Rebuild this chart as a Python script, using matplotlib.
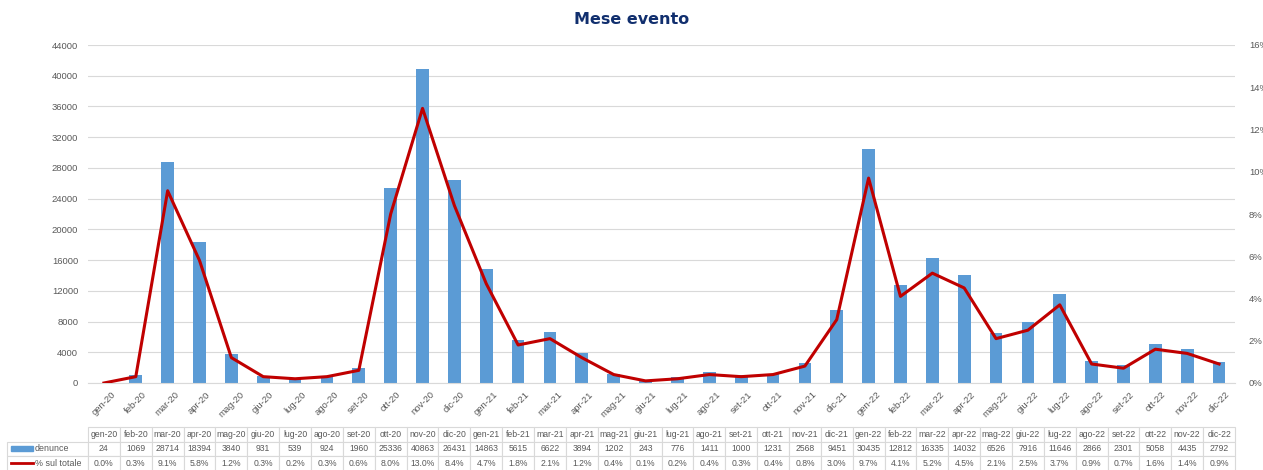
import numpy as np
import matplotlib.pyplot as plt
from matplotlib.ticker import MultipleLocator, FuncFormatter
from matplotlib.patches import Rectangle
from matplotlib.lines import Line2D

plt.rcParams['font.family'] = ['Liberation Sans', 'DejaVu Sans']

# dati
mesi = ['gen-20', 'feb-20', 'mar-20', 'apr-20', 'mag-20', 'giu-20', 'lug-20', 'ago-20', 'set-20', 'ott-20', 'nov-20', 'dic-20',
        'gen-21', 'feb-21', 'mar-21', 'apr-21', 'mag-21', 'giu-21', 'lug-21', 'ago-21', 'set-21', 'ott-21', 'nov-21', 'dic-21',
        'gen-22', 'feb-22', 'mar-22', 'apr-22', 'mag-22', 'giu-22', 'lug-22', 'ago-22', 'set-22', 'ott-22', 'nov-22', 'dic-22']
denunce = [24, 1069, 28714, 18394, 3840, 931, 539, 924, 1960, 25336, 40863, 26431,
           14863, 5615, 6622, 3894, 1202, 243, 776, 1411, 1000, 1231, 2568, 9451,
           30435, 12812, 16335, 14032, 6526, 7916, 11646, 2866, 2301, 5058, 4435, 2792]
perc_totale = [0.0, 0.3, 9.1, 5.8, 1.2, 0.3, 0.2, 0.3, 0.6, 8.0, 13.0, 8.4,
               4.7, 1.8, 2.1, 1.2, 0.4, 0.1, 0.2, 0.4, 0.3, 0.4, 0.8, 3.0,
               9.7, 4.1, 5.2, 4.5, 2.1, 2.5, 3.7, 0.9, 0.7, 1.6, 1.4, 0.9]

blu = '#5B9BD5'
rosso = '#C00000'
grigio = '#595959'
griglia = '#D9D9D9'

W, H = 1263, 470
fig = plt.figure(figsize=(W / 100, H / 100), dpi=100)

x0, x1 = 88, 1235
ax = fig.add_axes([x0 / W, (H - 383) / H, (x1 - x0) / W, (383 - 45) / H])
x = np.arange(len(mesi))
ax.bar(x, denunce, width=0.4, color=blu, zorder=2)
ax.set_xlim(-0.5, len(mesi) - 0.5)
ax.set_ylim(0, 44000)
ax.yaxis.set_major_locator(MultipleLocator(4000))
ax.grid(axis='y', color=griglia, lw=0.8, zorder=0)
ax.set_axisbelow(True)
for s in ['top', 'right', 'left']:
    ax.spines[s].set_visible(False)
ax.spines['bottom'].set_color(griglia)
ax.tick_params(axis='y', length=0, labelsize=6.8, labelcolor=grigio, pad=7)
ax.tick_params(axis='x', length=0, labelsize=6.8, labelcolor=grigio, pad=5)
ax.set_xticks(x)
ax.set_xticklabels(mesi, rotation=45, ha='center', va='top')

ax2 = ax.twinx()
ax2.plot(x, np.array(perc_totale) / 100, color=rosso, lw=2.2, zorder=3)
ax2.set_ylim(0, 0.16)
ax2.yaxis.set_major_locator(MultipleLocator(0.02))
ax2.yaxis.set_major_formatter(FuncFormatter(lambda v, p: '%d%%' % round(v * 100)))
for s in ax2.spines.values():
    s.set_visible(False)
ax2.tick_params(axis='y', length=0, labelsize=6.8, labelcolor=grigio, pad=10)

fig.text(0.5, 1 - 20 / H, 'Mese evento', ha='center', va='center', family='DejaVu Sans',
         fontsize=11.5, fontweight='bold', color='#112F6E')

# tabella dati sotto il grafico
tx0 = 7
tax = fig.add_axes([tx0 / W, (H - 470.5) / H, (x1 - tx0) / W, 43.5 / H])
tax.axis('off')
righe = [[''] + mesi,
         [''] + [str(v) for v in denunce],
         [''] + ['%.1f%%' % v for v in perc_totale]]
larg_etich = (x0 - tx0) / (x1 - tx0)
larg_col = (1 - larg_etich) / len(mesi)
tab = tax.table(cellText=righe, colWidths=[larg_etich] + [larg_col] * len(mesi),
                cellLoc='center', bbox=[0, 0, 1, 1])
tab.auto_set_font_size(False)
tab.set_fontsize(6.2)
for (r, c), cell in tab.get_celld().items():
    cell.set_edgecolor(griglia)
    cell.set_linewidth(0.8)
    cell.get_text().set_color(grigio)
    cell.PAD = 0.02
tab[0, 0].visible_edges = ''

# etichette con simboli di legenda
h_riga = 1 / 3
px = 1 / (x1 - tx0)
tax.add_patch(Rectangle((4 * px, 1.5 * h_riga - 0.06), 22 * px, 0.12, color=blu,
                        transform=tax.transAxes, clip_on=False))
tax.add_line(Line2D([4 * px, 26 * px], [0.5 * h_riga, 0.5 * h_riga], color=rosso, lw=2,
                    transform=tax.transAxes))
tax.text(28 * px, 1.5 * h_riga, 'denunce', ha='left', va='center', fontsize=6.4, color=grigio)
tax.text(28 * px, 0.5 * h_riga, '% sul totale', ha='left', va='center', fontsize=6.4, color=grigio)

fig.savefig('out.png', dpi=100)
